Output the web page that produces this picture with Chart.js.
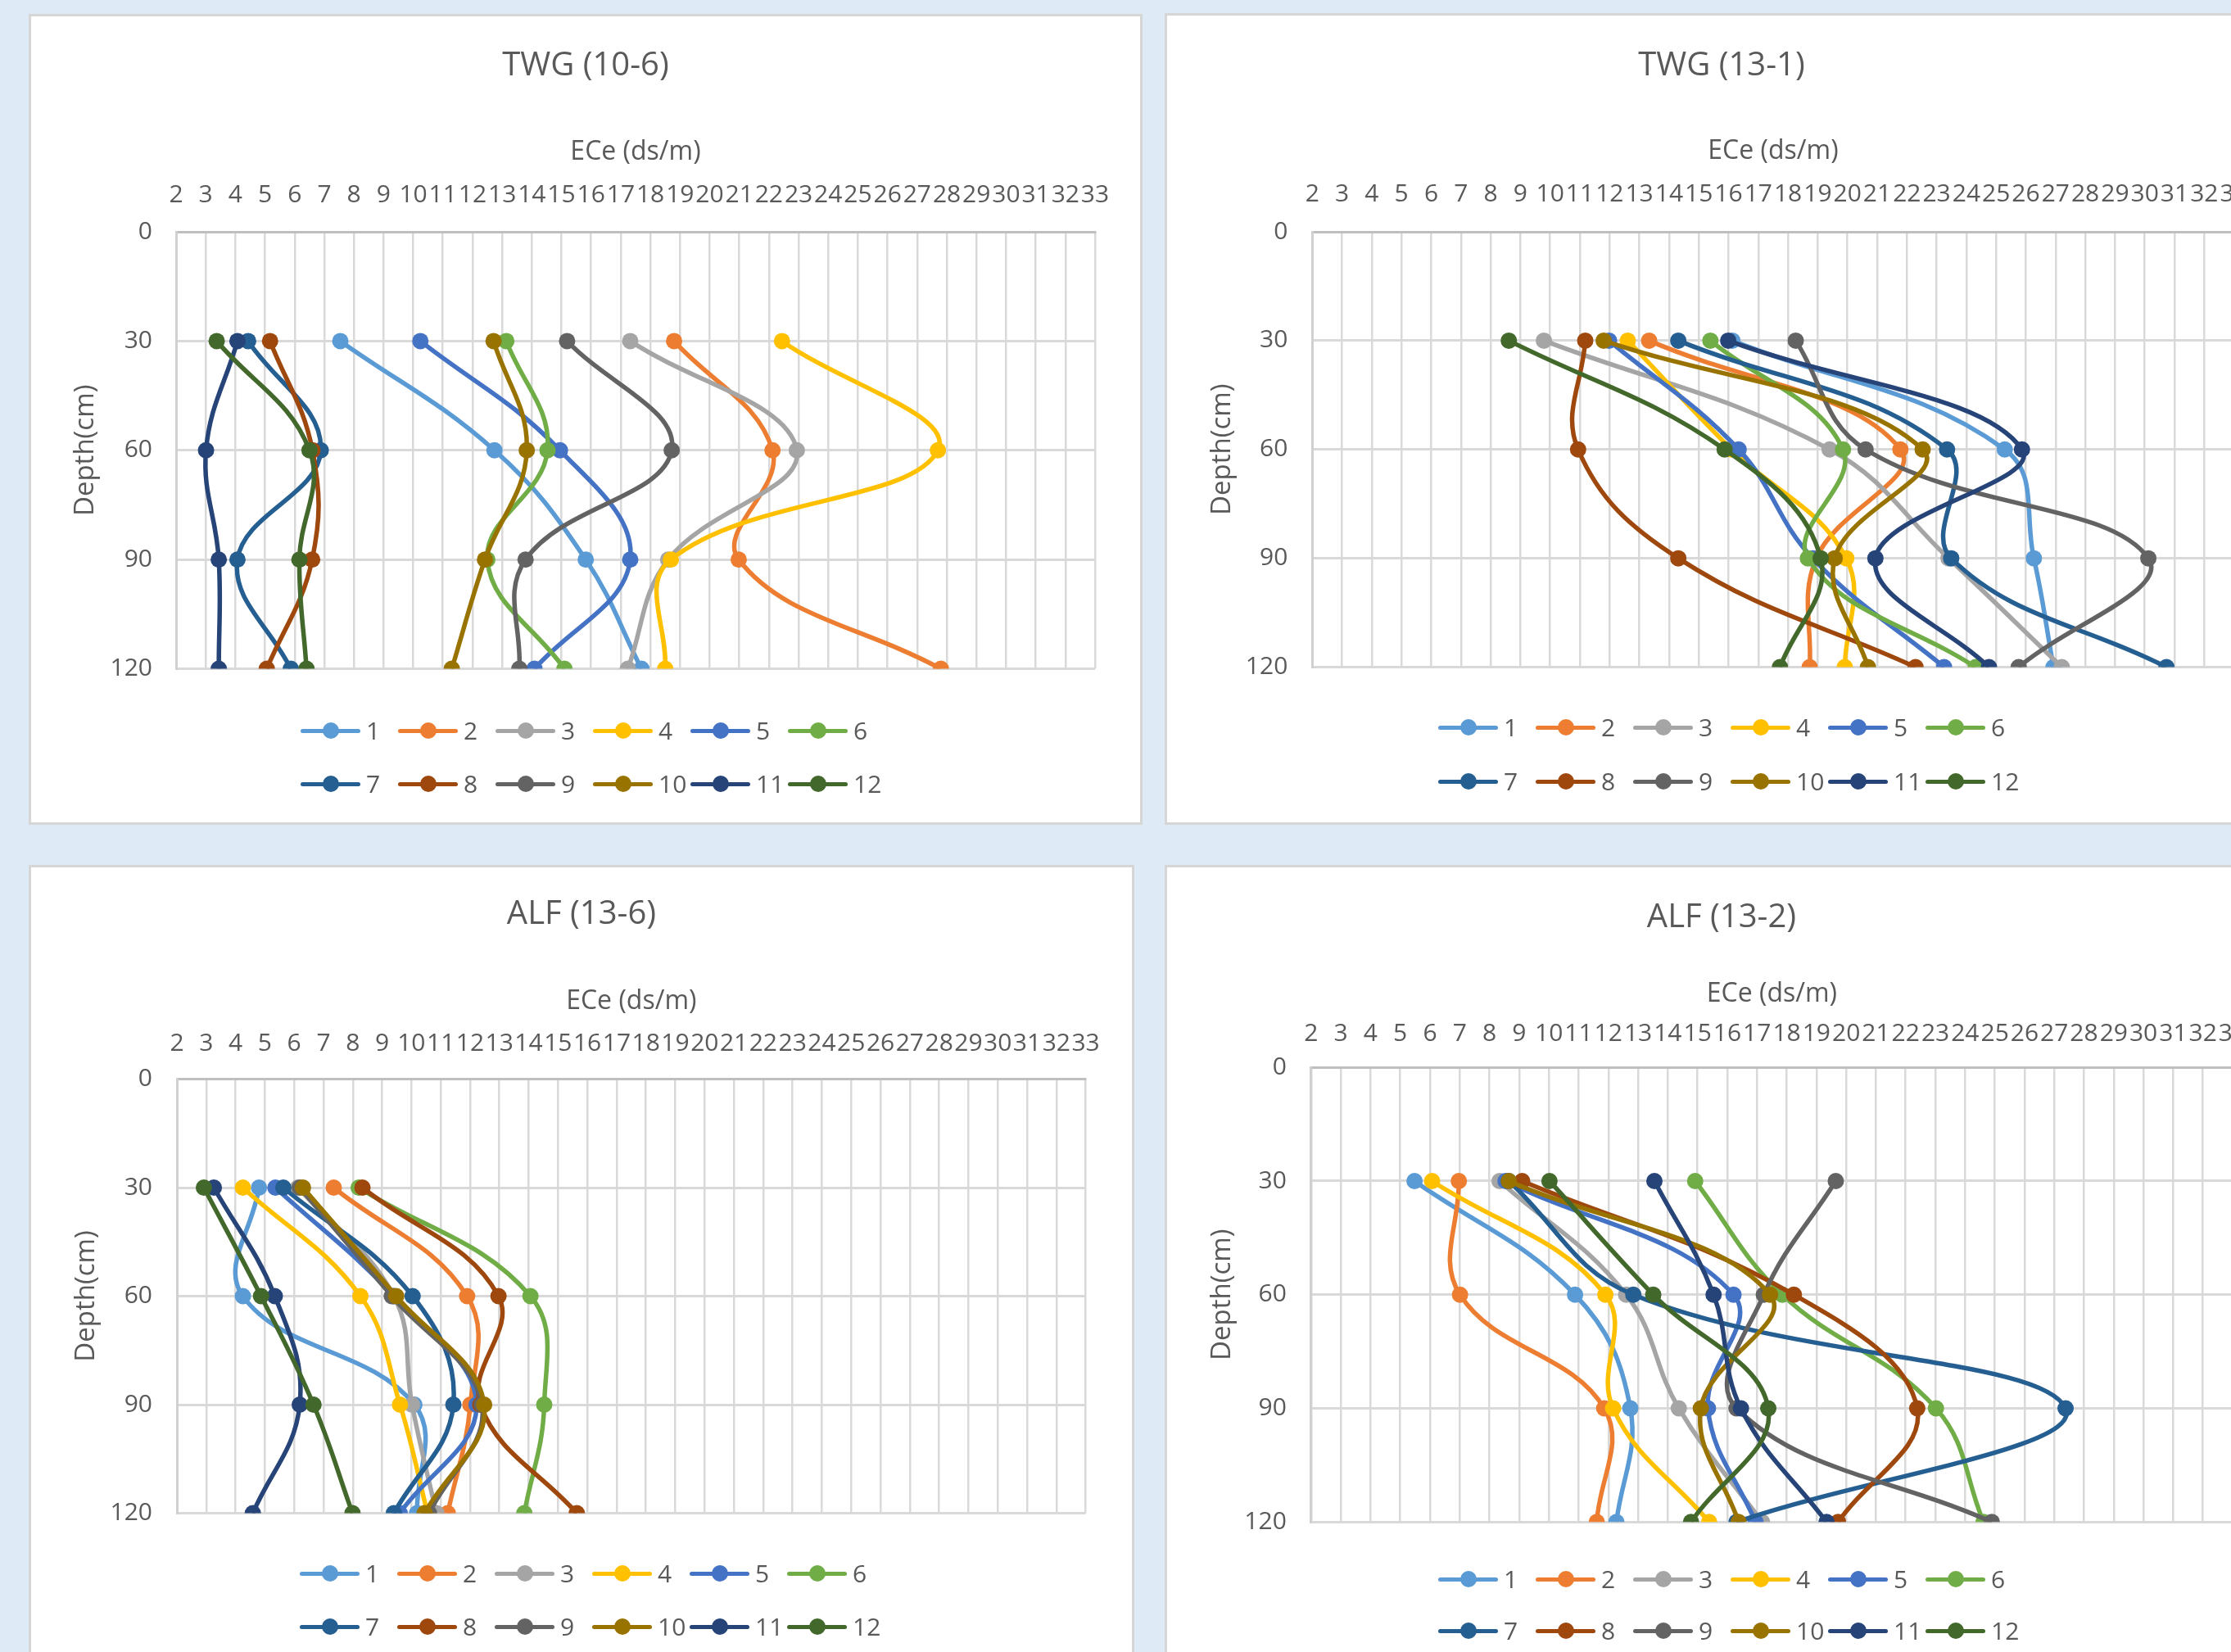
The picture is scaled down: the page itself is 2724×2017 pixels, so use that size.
<!DOCTYPE html>
<html>
<head>
<meta charset="utf-8">
<script src="https://cdn.jsdelivr.net/npm/chart.js@4.4.1/dist/chart.umd.min.js"></script>
<style>
  html, body { margin: 0; padding: 0; width: 2724px; height: 2017px; overflow: hidden; background: #deeaf6; font-family: "Open Sans", sans-serif; }
  .card { position: absolute; background: #fff; border: 3px solid #d6d6d6; overflow: visible; }
  .card canvas { position: absolute; left: 0; top: 0; }
  .row { position: absolute; display: flex; align-items: center; height: 40px; }
  .item { width: 119px; flex: none; display: flex; align-items: center; }
  .sw { position: relative; width: 73px; height: 22px; flex: none; }
  .sw .ln { position: absolute; left: 0; right: 0; top: 8.5px; height: 5px; border-radius: 2.5px; }
  .sw .dot { position: absolute; left: 26.5px; top: 1px; width: 20px; height: 20px; border-radius: 50%; }
  .lab { margin-left: 7px; font-size: 30px; line-height: 30px; color: #595959; white-space: nowrap; }
</style>
</head>
<body>
<script>
// Sampling depths (cm) and axis ranges
const depthCm = [30, 60, 90, 120];
const depthTicks = [0, 30, 60, 90, 120];
const eceRange = [2, 33];

// Series names and colours
const seriesNames = ['1', '2', '3', '4', '5', '6', '7', '8', '9', '10', '11', '12'];
const seriesColors = ['#5B9BD5', '#ED7D31', '#A5A5A5', '#FFC000', '#4472C4', '#70AD47',
                      '#255E91', '#9E480E', '#636363', '#997300', '#264478', '#43682B'];

// ECe (dS/m) per series at 30, 60, 90, 120 cm
const twg10_6 = [
  [7.54, 12.74, 15.82, 17.70],
  [18.80, 22.12, 20.98, 27.80],
  [17.32, 22.94, 18.60, 17.24],
  [22.44, 27.70, 18.69, 18.50],
  [10.24, 14.95, 17.32, 14.09],
  [13.14, 14.53, 12.50, 15.10],
  [4.43, 6.88, 4.07, 5.87],
  [5.17, 6.60, 6.59, 5.06],
  [15.19, 18.72, 13.79, 13.58],
  [12.71, 13.83, 12.42, 11.30],
  [4.07, 3.01, 3.44, 3.44],
  [3.37, 6.50, 6.16, 6.40]
];
const twg13_1 = [
  [16.13, 25.29, 26.27, 26.93],
  [13.33, 21.78, 18.95, 18.73],
  [9.79, 19.40, 23.40, 27.21],
  [12.61, 16.10, 19.96, 19.91],
  [11.98, 16.34, 18.83, 23.25],
  [15.39, 19.85, 18.67, 24.31],
  [14.31, 23.35, 23.49, 30.73],
  [11.18, 10.94, 14.31, 22.29],
  [18.26, 20.61, 30.12, 25.76],
  [11.80, 22.53, 19.57, 20.69],
  [15.99, 25.87, 20.94, 24.76],
  [8.61, 15.87, 19.10, 17.73]
];
const alf13_6 = [
  [4.80, 4.25, 10.10, 10.19],
  [7.35, 11.90, 12.01, 11.24],
  [6.13, 9.40, 10.02, 10.85],
  [4.25, 8.26, 9.61, 10.55],
  [5.36, 9.40, 12.22, 9.60],
  [8.20, 14.06, 14.53, 13.85],
  [5.63, 10.04, 11.43, 9.40],
  [8.33, 12.97, 12.35, 15.64],
  [6.19, 9.33, 12.40, 10.60],
  [6.30, 9.48, 12.48, 10.45],
  [3.26, 5.34, 6.19, 4.59],
  [2.92, 4.87, 6.66, 7.99]
];
const alf13_2 = [
  [5.48, 10.88, 12.74, 12.27],
  [6.97, 7.01, 11.86, 11.61],
  [8.34, 12.60, 14.37, 17.17],
  [6.07, 11.90, 12.16, 15.39],
  [8.54, 16.21, 15.35, 16.95],
  [14.92, 17.85, 23.02, 24.62],
  [8.65, 12.84, 27.38, 16.31],
  [9.10, 18.24, 22.39, 19.73],
  [19.65, 17.23, 16.31, 24.90],
  [8.65, 17.44, 15.11, 16.38],
  [13.55, 15.54, 16.46, 19.34],
  [10.02, 13.51, 17.38, 14.78]
];

const TEXT = '#595959';
const FONT = '"Open Sans", sans-serif';
Chart.defaults.font.family = FONT;
Chart.defaults.color = TEXT;

// Card geometry (inner box) and the spacing of each chart inside it
const panels = [
  { title: 'TWG (10-6)', values: twg10_6, left: 35, top: 17, w: 1354, h: 984,
    side: 55, bottom: 187.4, titleTop: 37, xBox: 178, xTitlePad: 62, xTickPad: 27,
    yBox: 122, yTitleX: 67, yTickPad: 29, legendX: 329, legendY: [872, 937] },
  { title: 'TWG (13-1)', values: twg13_1, left: 1422, top: 16, w: 1354, h: 985,
    side: 51.4, bottom: 189.5, titleTop: 38, xBox: 178, xTitlePad: 60.7, xTickPad: 28,
    yBox: 125.9, yTitleX: 68, yTickPad: 30, legendX: 331, legendY: [869, 935] },
  { title: 'ALF (13-6)', values: alf13_6, left: 35, top: 1056, w: 1344, h: 984,
    side: 56.4, bottom: 195.5, titleTop: 34, xBox: 176.5, xTitlePad: 62.3, xTickPad: 25,
    yBox: 121.6, yTitleX: 68, yTickPad: 30, legendX: 328, legendY: [862, 927] },
  { title: 'ALF (13-2)', values: alf13_2, left: 1422, top: 1056, w: 1354, h: 984,
    side: 53, bottom: 184.7, titleTop: 37.5, xBox: 158.7, xTitlePad: 50, xTickPad: 23,
    yBox: 122.8, yTitleX: 68, yTickPad: 30, legendX: 331, legendY: [869, 932] }
];

function buildLegend(card, p) {
  [0, 6].forEach((start, r) => {
    const row = document.createElement('div');
    row.className = 'row';
    row.style.left = p.legendX + 'px';
    row.style.top = (p.legendY[r] - 20) + 'px';
    for (let i = start; i < start + 6; i++) {
      const item = document.createElement('div');
      item.className = 'item';
      const sw = document.createElement('div');
      sw.className = 'sw';
      const ln = document.createElement('div');
      ln.className = 'ln';
      ln.style.background = seriesColors[i];
      const dot = document.createElement('div');
      dot.className = 'dot';
      dot.style.background = seriesColors[i];
      sw.appendChild(ln);
      sw.appendChild(dot);
      const lab = document.createElement('span');
      lab.className = 'lab';
      lab.textContent = seriesNames[i];
      item.appendChild(sw);
      item.appendChild(lab);
      row.appendChild(item);
    }
    card.appendChild(row);
  });
}

function buildPanel(p) {
  const card = document.createElement('div');
  card.className = 'card';
  card.style.left = p.left + 'px';
  card.style.top = p.top + 'px';
  card.style.width = p.w + 'px';
  card.style.height = p.h + 'px';
  document.body.appendChild(card);

  const canvas = document.createElement('canvas');
  canvas.width = p.w;
  canvas.height = p.h;
  card.appendChild(canvas);

  const datasets = seriesNames.map((name, i) => ({
    label: name,
    data: depthCm.map((d, j) => ({ x: p.values[i][j], y: d })),
    borderColor: seriesColors[i],
    backgroundColor: seriesColors[i],
    pointBackgroundColor: seriesColors[i],
    pointBorderWidth: 0,
    pointRadius: 10,
    pointHoverRadius: 10,
    borderWidth: 5.5,
    tension: 0.4,
    fill: false,
    order: seriesNames.length - i
  }));

  new Chart(canvas, {
    type: 'line',
    data: { datasets },
    options: {
      responsive: false,
      animation: false,
      devicePixelRatio: 1,
      events: [],
      layout: { padding: { left: p.side, right: p.side, top: 0, bottom: p.bottom } },
      plugins: {
        legend: { display: false },
        tooltip: { enabled: false },
        title: {
          display: true, text: p.title, color: TEXT,
          font: { size: 40, weight: 'normal' },
          padding: { top: p.titleTop, bottom: 0 }
        }
      },
      scales: {
        x: {
          type: 'linear', position: 'top',
          min: eceRange[0], max: eceRange[1],
          afterFit: s => { s.height = p.xBox; s.paddingLeft = 0; s.paddingRight = 0; },
          ticks: { stepSize: 1, autoSkip: false, maxRotation: 0, minRotation: 0, maxTicksLimit: 100,
                   color: TEXT, font: { size: 30 }, padding: p.xTickPad },
          grid: { color: '#d9d9d9', lineWidth: 2.5, drawTicks: false },
          border: { color: '#bfbfbf', width: 3 },
          title: { display: true, text: 'ECe (ds/m)', color: TEXT, font: { size: 32 },
                   padding: { top: p.xTitlePad, bottom: 0 } }
        },
        y: {
          type: 'linear', position: 'left', reverse: true,
          min: depthTicks[0], max: depthTicks[depthTicks.length - 1],
          afterFit: s => { s.width = p.yBox; s.paddingTop = 0; s.paddingBottom = 0; },
          ticks: { stepSize: depthTicks[1] - depthTicks[0], color: TEXT, font: { size: 30 }, padding: p.yTickPad },
          grid: { color: '#d9d9d9', lineWidth: 3, drawTicks: false },
          border: { color: '#d0d0d0', width: 3 },
          title: { display: true, text: 'Depth(cm)', color: TEXT, font: { size: 33 },
                   padding: { top: p.yTitleX - p.side - 19.8, bottom: 0 } }
        }
      }
    }
  });

  buildLegend(card, p);
}

panels.forEach(buildPanel);
</script>
</body>
</html>
